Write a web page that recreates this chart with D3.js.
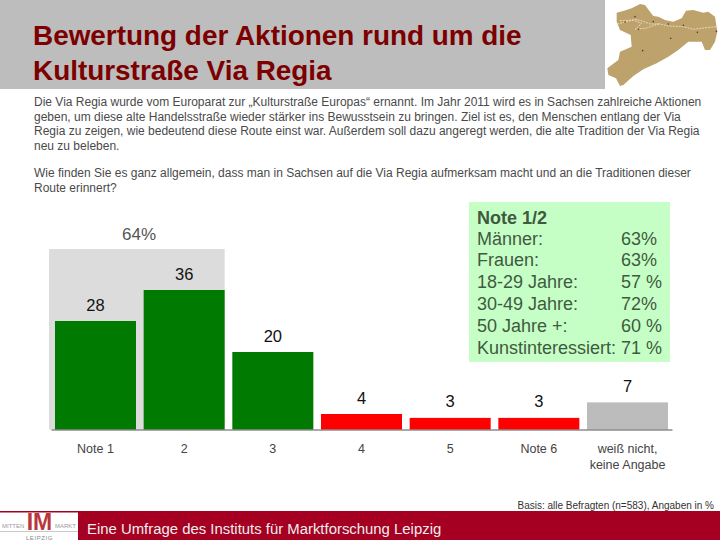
<!DOCTYPE html>
<html><head><meta charset="utf-8">
<script src="https://cdn.jsdelivr.net/npm/d3@7"></script>
<style>html,body{margin:0;padding:0;background:#fff}svg{display:block;font-family:"Liberation Sans",Arial,sans-serif}</style>
</head><body><svg id="c" width="720" height="540"></svg>
<script>
const categories = ["Note 1","2","3","4","5","Note 6","weiß nicht,|keine Angabe"];
const values = [28,36,20,4,3,3,7];
const barColors = ["#017a01","#017a01","#017a01","#fe0000","#fe0000","#fe0000","#bcbcbc"];
const topBoxLabel = "64%";
const titleLines = ["Bewertung der Aktionen rund um die","Kulturstraße Via Regia"];
const introLines = [
 "Die Via Regia wurde vom Europarat zur „Kulturstraße Europas“ ernannt. Im Jahr 2011 wird es in Sachsen zahlreiche Aktionen",
 "geben, um diese alte Handelsstraße wieder stärker ins Bewusstsein zu bringen. Ziel ist es, den Menschen entlang der Via",
 "Regia zu zeigen, wie bedeutend diese Route einst war. Außerdem soll dazu angeregt werden, die alte Tradition der Via Regia",
 "neu zu beleben."];
const questionLines = [
 "Wie finden Sie es ganz allgemein, dass man in Sachsen auf die Via Regia aufmerksam macht und an die Traditionen dieser",
 "Route erinnert?"];
const noteTitle = "Note 1/2";
const noteLabels = ["Männer:","Frauen:","18-29 Jahre:","30-49 Jahre:","50 Jahre +:","Kunstinteressiert:"];
const noteValues = ["63%","63%","57 %","72%","60 %","71 %"];
const basisText = "Basis: alle Befragten (n=583), Angaben in %";
const footerText = "Eine Umfrage des Instituts für Marktforschung Leipzig";
const mapOutline = [[50,38],[72,32],[95,25],[120,12],[135,15],[150,35],[160,48],[175,50],[195,60],[220,65],[245,55],[258,32],[280,30],[310,38],[325,35],[345,50],[352,95],[345,125],[330,150],[315,150],[305,125],[285,125],[265,125],[235,150],[205,170],[170,190],[130,208],[100,228],[70,255],[60,258],[48,235],[25,225],[22,205],[55,180],[60,155],[95,140],[92,105],[60,90],[50,65]];
const mapRoute = [[52,72],[75,66],[105,58],[125,62],[150,72],[180,72],[205,78],[250,80],[280,88],[310,84],[348,80]];
const mapRoute2 = [[60,62],[100,60],[125,70],[105,88],[140,84],[180,70]];
const mapDots = [[75,66],[105,50],[115,88],[160,65],[205,72],[250,76],[292,97],[349,94],[128,152],[212,115]];

const svg = d3.select("#c");

// header
svg.append("rect").attr("x",0).attr("y",0).attr("width",605).attr("height",89).attr("fill","#bdbdbd");
svg.selectAll("text.title").data(titleLines).join("text").attr("class","title")
  .attr("x",33).attr("y",(d,i)=>45+i*35).attr("font-size",27.9).attr("font-weight","bold").attr("fill","#7c0000").text(d=>d);

// map
const mapX = d3.scaleLinear().domain([0,360]).range([600,720]);
const mapY = d3.scaleLinear().domain([0,285]).range([0,95]);
const mapLine = d3.line().x(d=>mapX(d[0])).y(d=>mapY(d[1]));
svg.append("path").attr("d",mapLine.curve(d3.curveLinearClosed)(mapOutline)).attr("fill","#bda26c");
mapLine.curve(d3.curveLinear);
[mapRoute,mapRoute2].forEach(r=>svg.append("path").attr("d",mapLine(r)).attr("fill","none").attr("stroke","#efe6cf").attr("stroke-width",.8).attr("stroke-dasharray","2 1"));
svg.selectAll("circle.city").data(mapDots).join("circle").attr("class","city").attr("cx",d=>mapX(d[0])).attr("cy",d=>mapY(d[1])).attr("r",.8).attr("fill","#5a3a20");

// text
const bodyFill = "#4a4a4a";
svg.selectAll("text.intro").data(introLines).join("text").attr("class","intro")
  .attr("x",34).attr("y",(d,i)=>106+i*14.6).attr("font-size",12).attr("fill",bodyFill).text(d=>d);
svg.selectAll("text.question").data(questionLines).join("text").attr("class","question")
  .attr("x",34).attr("y",(d,i)=>177+i*15).attr("font-size",12).attr("fill",bodyFill).text(d=>d);

// chart
const x = d3.scaleBand().domain(categories).range([51,672]).paddingInner(.0865).paddingOuter(.045);
const baseY = 429.5;
const y = d3.scaleLinear().domain([0,36]).range([baseY,290]);

svg.append("rect").attr("x",49).attr("width",x(categories[1])+x.bandwidth()-49)
  .attr("y",249).attr("height",baseY-249).attr("fill","#dcdcdc");
svg.append("text").attr("x",139).attr("y",240).attr("text-anchor","middle").attr("font-size",17).attr("fill","#555").text(topBoxLabel);

svg.selectAll("rect.bar").data(values).join("rect").attr("class","bar")
  .attr("x",(d,i)=>x(categories[i])).attr("width",x.bandwidth())
  .attr("y",d=>y(d)).attr("height",d=>baseY-y(d)).attr("fill",(d,i)=>barColors[i]);
svg.selectAll("text.val").data(values).join("text").attr("class","val")
  .attr("x",(d,i)=>x(categories[i])+x.bandwidth()/2).attr("y",d=>y(d)-10.5)
  .attr("text-anchor","middle").attr("font-size",16.5).attr("fill","#111").text(d=>d);

const axis = svg.append("g").attr("transform",`translate(0,${baseY})`)
  .call(d3.axisBottom(x).tickSize(0).tickSizeOuter(0).tickFormat(()=>""));
axis.select(".domain").attr("stroke","#555").attr("stroke-width",1);
axis.selectAll(".tick text").each(function(d){
  const t=d3.select(this).attr("y",0).attr("dy",null).attr("font-size",12.5).attr("font-family",'"Liberation Sans",Arial,sans-serif').attr("fill","#444");
  d.split("|").forEach((s,i)=>t.append("tspan").attr("x",0).attr("y",23.5+i*16).text(s));
});

// note box
svg.append("rect").attr("x",469).attr("y",202).attr("width",201).attr("height",160).attr("fill","#c6ffc6");
const noteFill="#3f5a3f";
svg.append("text").attr("x",477).attr("y",223.5).attr("font-size",18).attr("font-weight","bold").attr("fill",noteFill).text(noteTitle);
svg.selectAll("text.nl").data(noteLabels).join("text").attr("class","nl")
  .attr("x",477).attr("y",(d,i)=>244.5+i*21.8).attr("font-size",18).attr("fill",noteFill).text(d=>d);
svg.selectAll("text.nv").data(noteValues).join("text").attr("class","nv")
  .attr("x",621).attr("y",(d,i)=>244.5+i*21.8).attr("font-size",18).attr("fill",noteFill).text(d=>d);

// footer
svg.append("text").attr("x",714).attr("y",509).attr("text-anchor","end").attr("font-size",10).attr("fill","#333").text(basisText);
svg.append("rect").attr("x",0).attr("y",511).attr("width",720).attr("height",1.5).attr("fill","#a50021");
svg.append("rect").attr("x",78).attr("y",511).attr("width",642).attr("height",29).attr("fill","#a50021");
svg.append("text").attr("x",87).attr("y",533.5).attr("font-size",14.9).attr("fill","#eee").text(footerText);
// logo
svg.append("text").attr("x",39.5).attr("y",529.5).attr("text-anchor","middle").attr("font-size",23).attr("font-weight","bold").attr("fill","#b8363c").text("IM");
svg.append("text").attr("x",2).attr("y",528).attr("font-size",6).attr("fill","#999").text("MITTEN");
svg.append("text").attr("x",55).attr("y",528).attr("font-size",6).attr("fill","#999").text("MARKT");
svg.append("text").attr("x",39.5).attr("y",540).attr("text-anchor","middle").attr("font-size",6).attr("letter-spacing",.6).attr("fill","#888").text("LEIPZIG");
svg.append("rect").attr("x",0).attr("y",531).attr("width",78).attr("height",.8).attr("fill","#bbb");
</script></body></html>
